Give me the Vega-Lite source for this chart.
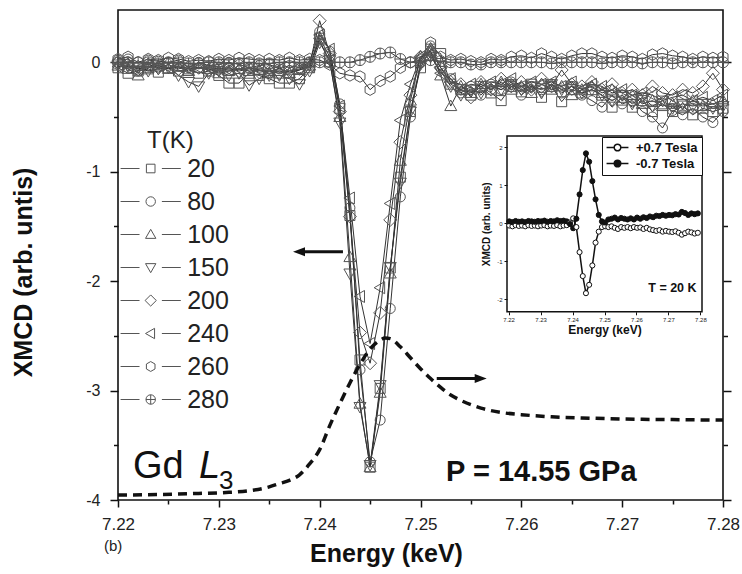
{
  "$schema": "https://vega.github.io/schema/vega-lite/v6.json",
  "width": 605,
  "height": 490,
  "autosize": {"type": "none"},
  "padding": {"left": 118, "top": 10, "right": 19, "bottom": 74},
  "background": "white",
  "config": {
    "font": "Liberation Sans",
    "view": {"stroke": "#111", "strokeWidth": 1.6},
    "axis": {"domain": false, "grid": false, "tickColor": "#111", "tickWidth": 1.5, "labelFont": "Liberation Sans", "labelColor": "#222", "titleColor": "#111", "titleFont": "Liberation Sans"},
    "legend": {"labelFont": "Liberation Sans", "titleFont": "Liberation Sans"}
  },
  "datasets": {
    "xmcd": [
      {"E":7.220,"20":-0.05,"80":0.02,"100":-0.03,"150":-0.02,"200":0.00,"240":-0.04,"260":0.03,"280":0.00},
      {"E":7.221,"20":-0.10,"80":0.03,"100":-0.06,"150":-0.04,"200":-0.02,"240":-0.03,"260":0.05,"280":0.00},
      {"E":7.222,"20":-0.08,"80":-0.08,"100":-0.12,"150":-0.05,"200":-0.04,"240":-0.06,"260":0.00,"280":0.00},
      {"E":7.223,"20":-0.06,"80":0.02,"100":-0.05,"150":-0.08,"200":-0.02,"240":-0.04,"260":0.03,"280":0.00},
      {"E":7.224,"20":-0.09,"80":0.01,"100":-0.03,"150":-0.06,"200":-0.05,"240":-0.03,"260":0.02,"280":-0.01},
      {"E":7.225,"20":-0.05,"80":0.00,"100":-0.06,"150":-0.05,"200":-0.02,"240":-0.05,"260":0.04,"280":0.00},
      {"E":7.226,"20":-0.08,"80":0.02,"100":-0.04,"150":-0.12,"200":-0.06,"240":-0.04,"260":0.03,"280":0.00},
      {"E":7.227,"20":-0.06,"80":-0.05,"100":-0.08,"150":-0.18,"200":-0.04,"240":-0.06,"260":0.01,"280":-0.01},
      {"E":7.228,"20":-0.10,"80":0.00,"100":-0.05,"150":-0.22,"200":-0.05,"240":-0.05,"260":0.02,"280":-0.01},
      {"E":7.229,"20":-0.08,"80":-0.03,"100":-0.06,"150":-0.10,"200":-0.07,"240":-0.05,"260":0.01,"280":0.00},
      {"E":7.230,"20":-0.12,"80":-0.02,"100":-0.10,"150":-0.08,"200":-0.06,"240":-0.06,"260":0.03,"280":0.00},
      {"E":7.231,"20":-0.19,"80":0.00,"100":-0.08,"150":-0.12,"200":-0.05,"240":-0.07,"260":0.02,"280":-0.01},
      {"E":7.232,"20":-0.19,"80":-0.02,"100":-0.06,"150":-0.10,"200":-0.08,"240":-0.06,"260":0.04,"280":-0.01},
      {"E":7.233,"20":-0.10,"80":-0.05,"100":-0.08,"150":-0.21,"200":-0.06,"240":-0.05,"260":0.03,"280":0.00},
      {"E":7.234,"20":-0.12,"80":-0.03,"100":-0.07,"150":-0.15,"200":-0.09,"240":-0.07,"260":0.02,"280":-0.01},
      {"E":7.235,"20":-0.15,"80":-0.02,"100":-0.10,"150":-0.12,"200":-0.08,"240":-0.08,"260":0.03,"280":-0.01},
      {"E":7.236,"20":-0.19,"80":-0.06,"100":-0.08,"150":-0.12,"200":-0.10,"240":-0.06,"260":0.02,"280":0.00},
      {"E":7.237,"20":-0.19,"80":-0.03,"100":-0.10,"150":-0.15,"200":-0.08,"240":-0.09,"260":0.04,"280":0.00},
      {"E":7.238,"20":-0.15,"80":-0.05,"100":-0.07,"150":-0.20,"200":-0.06,"240":-0.07,"260":0.02,"280":0.00},
      {"E":7.239,"20":-0.05,"80":0.00,"100":-0.03,"150":-0.08,"200":-0.02,"240":-0.04,"260":0.03,"280":0.00},
      {"E":7.240,"20":0.22,"80":0.28,"100":0.20,"150":0.18,"200":0.38,"240":0.25,"260":0.02,"280":0.00},
      {"E":7.241,"20":0.05,"80":0.10,"100":0.00,"150":0.02,"200":0.08,"240":0.12,"260":-0.02,"280":0.00},
      {"E":7.242,"20":-0.42,"80":-0.38,"100":-0.50,"150":-0.55,"200":-0.45,"240":-0.40,"260":-0.10,"280":0.00},
      {"E":7.243,"20":-1.40,"80":-1.33,"100":-1.78,"150":-1.93,"200":-1.41,"240":-1.24,"260":-0.12,"280":0.00},
      {"E":7.244,"20":-2.72,"80":-2.81,"100":-3.12,"150":-3.15,"200":-2.47,"240":-2.14,"260":-0.13,"280":0.02},
      {"E":7.245,"20":-3.70,"80":-3.65,"100":-3.70,"150":-3.68,"200":-2.75,"240":-2.57,"260":-0.25,"280":0.05},
      {"E":7.246,"20":-2.98,"80":-3.27,"100":-3.02,"150":-2.95,"200":-2.29,"240":-2.06,"260":-0.17,"280":0.08},
      {"E":7.247,"20":-1.88,"80":-2.25,"100":-1.93,"150":-1.87,"200":-1.44,"240":-1.29,"260":-0.13,"280":0.09},
      {"E":7.248,"20":-1.05,"80":-1.23,"100":-0.90,"150":-1.10,"200":-0.73,"240":-0.53,"260":-0.05,"280":0.03},
      {"E":7.249,"20":-0.45,"80":-0.50,"100":-0.35,"150":-0.45,"200":-0.30,"240":-0.20,"260":0.00,"280":0.00},
      {"E":7.250,"20":-0.05,"80":0.00,"100":0.05,"150":-0.02,"200":0.05,"240":0.05,"260":0.02,"280":0.00},
      {"E":7.251,"20":0.12,"80":0.15,"100":0.10,"150":0.05,"200":0.10,"240":0.08,"260":0.18,"280":0.02},
      {"E":7.252,"20":0.08,"80":-0.05,"100":-0.12,"150":-0.08,"200":-0.05,"240":-0.10,"260":0.05,"280":0.01},
      {"E":7.253,"20":-0.20,"80":-0.15,"100":-0.40,"150":-0.22,"200":-0.18,"240":-0.15,"260":0.02,"280":0.00},
      {"E":7.254,"20":-0.25,"80":-0.28,"100":-0.22,"150":-0.30,"200":-0.20,"240":-0.25,"260":0.03,"280":0.00},
      {"E":7.255,"20":-0.30,"80":-0.22,"100":-0.28,"150":-0.25,"200":-0.32,"240":-0.20,"260":0.01,"280":-0.02},
      {"E":7.256,"20":-0.22,"80":-0.30,"100":-0.20,"150":-0.28,"200":-0.18,"240":-0.22,"260":0.00,"280":-0.02},
      {"E":7.257,"20":-0.28,"80":-0.20,"100":-0.25,"150":-0.22,"200":-0.25,"240":-0.18,"260":0.03,"280":0.00},
      {"E":7.258,"20":-0.35,"80":-0.25,"100":-0.18,"150":-0.25,"200":-0.15,"240":-0.20,"260":0.02,"280":0.00},
      {"E":7.259,"20":-0.22,"80":-0.18,"100":-0.25,"150":-0.20,"200":-0.22,"240":-0.15,"260":0.05,"280":0.00},
      {"E":7.260,"20":-0.27,"80":-0.30,"100":-0.22,"150":-0.25,"200":-0.18,"240":-0.22,"260":0.06,"280":0.00},
      {"E":7.261,"20":-0.20,"80":-0.22,"100":-0.28,"150":-0.22,"200":-0.25,"240":-0.18,"260":0.04,"280":0.00},
      {"E":7.262,"20":-0.32,"80":-0.25,"100":-0.20,"150":-0.28,"200":-0.15,"240":-0.20,"260":0.08,"280":0.00},
      {"E":7.263,"20":-0.22,"80":-0.20,"100":-0.25,"150":-0.20,"200":-0.22,"240":-0.18,"260":0.05,"280":-0.01},
      {"E":7.264,"20":-0.36,"80":-0.28,"100":-0.22,"150":-0.25,"200":-0.07,"240":-0.22,"260":0.03,"280":0.00},
      {"E":7.265,"20":-0.25,"80":-0.22,"100":-0.30,"150":-0.22,"200":-0.20,"240":-0.18,"260":0.06,"280":0.00},
      {"E":7.266,"20":-0.28,"80":-0.30,"100":-0.25,"150":-0.28,"200":-0.22,"240":-0.25,"260":0.08,"280":0.00},
      {"E":7.267,"20":-0.25,"80":-0.35,"100":-0.22,"150":-0.25,"200":-0.18,"240":-0.20,"260":0.08,"280":0.00},
      {"E":7.268,"20":-0.30,"80":-0.41,"100":-0.28,"150":-0.30,"200":-0.25,"240":-0.22,"260":0.05,"280":-0.01},
      {"E":7.269,"20":-0.41,"80":-0.30,"100":-0.25,"150":-0.35,"200":-0.20,"240":-0.28,"260":0.04,"280":0.00},
      {"E":7.270,"20":-0.32,"80":-0.38,"100":-0.35,"150":-0.30,"200":-0.28,"240":-0.25,"260":0.06,"280":0.00},
      {"E":7.271,"20":-0.41,"80":-0.35,"100":-0.30,"150":-0.38,"200":-0.25,"240":-0.30,"260":0.05,"280":0.00},
      {"E":7.272,"20":-0.35,"80":-0.45,"100":-0.38,"150":-0.32,"200":-0.30,"240":-0.28,"260":0.03,"280":-0.01},
      {"E":7.273,"20":-0.45,"80":-0.50,"100":-0.35,"150":-0.40,"200":-0.22,"240":-0.30,"260":0.07,"280":0.00},
      {"E":7.274,"20":-0.38,"80":-0.60,"100":-0.40,"150":-0.35,"200":-0.28,"240":-0.35,"260":0.08,"280":0.00},
      {"E":7.275,"20":-0.45,"80":-0.44,"100":-0.38,"150":-0.42,"200":-0.30,"240":-0.32,"260":0.06,"280":-0.01},
      {"E":7.276,"20":-0.40,"80":-0.48,"100":-0.42,"150":-0.38,"200":-0.25,"240":-0.30,"260":0.05,"280":0.00},
      {"E":7.277,"20":-0.48,"80":-0.42,"100":-0.35,"150":-0.40,"200":-0.28,"240":-0.35,"260":0.03,"280":0.00},
      {"E":7.278,"20":-0.42,"80":-0.50,"100":-0.40,"150":-0.38,"200":-0.22,"240":-0.32,"260":0.05,"280":0.00},
      {"E":7.279,"20":-0.45,"80":-0.55,"100":-0.38,"150":-0.42,"200":-0.10,"240":-0.35,"260":0.04,"280":0.00},
      {"E":7.280,"20":-0.42,"80":-0.45,"100":-0.35,"150":-0.40,"200":-0.25,"240":-0.30,"260":0.05,"280":0.00}
    ],
    "abs": [
      {"E":7.220,"A":-3.955},{"E":7.224,"A":-3.95},{"E":7.228,"A":-3.94},{"E":7.231,"A":-3.93},
      {"E":7.233,"A":-3.915},{"E":7.235,"A":-3.88},{"E":7.236,"A":-3.85},{"E":7.237,"A":-3.82},
      {"E":7.238,"A":-3.77},{"E":7.239,"A":-3.67},{"E":7.240,"A":-3.54},{"E":7.241,"A":-3.32},
      {"E":7.242,"A":-3.12},{"E":7.243,"A":-2.93},{"E":7.244,"A":-2.76},{"E":7.245,"A":-2.62},
      {"E":7.246,"A":-2.54},{"E":7.2465,"A":-2.52},{"E":7.247,"A":-2.525},{"E":7.248,"A":-2.60},
      {"E":7.249,"A":-2.70},{"E":7.250,"A":-2.80},{"E":7.251,"A":-2.89},{"E":7.252,"A":-2.97},
      {"E":7.253,"A":-3.04},{"E":7.254,"A":-3.09},{"E":7.256,"A":-3.16},{"E":7.258,"A":-3.20},
      {"E":7.260,"A":-3.22},{"E":7.263,"A":-3.24},{"E":7.266,"A":-3.25},{"E":7.270,"A":-3.26},
      {"E":7.275,"A":-3.265},{"E":7.280,"A":-3.27}
    ],
    "inset": [
      {"E":7.2202,"p":-0.06,"m":0.05},{"E":7.2212,"p":-0.08,"m":0.03},{"E":7.2222,"p":-0.05,"m":0.06},
      {"E":7.2232,"p":-0.07,"m":0.04},{"E":7.2242,"p":-0.06,"m":0.05},{"E":7.2252,"p":-0.08,"m":0.03},
      {"E":7.2262,"p":-0.05,"m":0.06},{"E":7.2272,"p":-0.07,"m":0.05},{"E":7.2282,"p":-0.06,"m":0.04},
      {"E":7.2292,"p":-0.08,"m":0.06},{"E":7.2302,"p":-0.06,"m":0.05},{"E":7.2312,"p":-0.05,"m":0.07},
      {"E":7.2322,"p":-0.08,"m":0.04},{"E":7.2332,"p":-0.06,"m":0.06},{"E":7.2342,"p":-0.07,"m":0.05},
      {"E":7.2352,"p":-0.05,"m":0.08},{"E":7.2362,"p":-0.08,"m":0.06},{"E":7.2372,"p":-0.06,"m":0.07},
      {"E":7.2382,"p":-0.05,"m":0.05},{"E":7.2392,"p":0.02,"m":-0.02},{"E":7.2402,"p":0.13,"m":-0.13},
      {"E":7.2412,"p":-0.10,"m":0.12},{"E":7.2422,"p":-0.76,"m":0.76},{"E":7.2432,"p":-1.39,"m":1.40},
      {"E":7.2442,"p":-1.84,"m":1.84},{"E":7.2452,"p":-1.62,"m":1.62},{"E":7.2462,"p":-1.11,"m":1.11},
      {"E":7.2472,"p":-0.51,"m":0.63},{"E":7.2482,"p":-0.22,"m":0.22},{"E":7.2492,"p":-0.10,"m":0.05},
      {"E":7.2502,"p":-0.08,"m":0.02},{"E":7.2512,"p":-0.10,"m":0.10},{"E":7.2522,"p":-0.08,"m":0.12},
      {"E":7.2532,"p":-0.12,"m":0.15},{"E":7.2542,"p":-0.15,"m":0.10},{"E":7.2552,"p":-0.10,"m":0.14},
      {"E":7.2562,"p":-0.12,"m":0.12},{"E":7.2572,"p":-0.10,"m":0.10},{"E":7.2582,"p":-0.13,"m":0.13},
      {"E":7.2592,"p":-0.10,"m":0.10},{"E":7.2602,"p":-0.12,"m":0.15},{"E":7.2612,"p":-0.11,"m":0.12},
      {"E":7.2622,"p":-0.15,"m":0.16},{"E":7.2632,"p":-0.12,"m":0.14},{"E":7.2642,"p":-0.16,"m":0.18},
      {"E":7.2652,"p":-0.18,"m":0.16},{"E":7.2662,"p":-0.20,"m":0.20},{"E":7.2672,"p":-0.18,"m":0.19},
      {"E":7.2682,"p":-0.22,"m":0.22},{"E":7.2692,"p":-0.20,"m":0.20},{"E":7.2702,"p":-0.22,"m":0.22},
      {"E":7.2712,"p":-0.23,"m":0.21},{"E":7.2722,"p":-0.21,"m":0.24},{"E":7.2732,"p":-0.25,"m":0.23},
      {"E":7.2742,"p":-0.30,"m":0.30},{"E":7.2752,"p":-0.26,"m":0.27},{"E":7.2762,"p":-0.22,"m":0.22},
      {"E":7.2772,"p":-0.24,"m":0.26},{"E":7.2782,"p":-0.27,"m":0.24},{"E":7.2792,"p":-0.25,"m":0.26}
    ]
  },
  "layer": [
    {
      "data": {"name": "xmcd"},
      "transform": [{"fold": ["20","80","100","150","200","240","260","280"], "as": ["T","v"]}],
      "resolve": {"scale": {"shape": "independent"}, "axis": {"x": "independent", "y": "independent"}},
      "layer": [
        {
          "mark": {"type": "line", "stroke": "#333", "strokeWidth": 1},
          "encoding": {
            "x": {"field": "E", "type": "quantitative", "scale": {"domain": [7.22, 7.28], "nice": false, "zero": false},
              "axis": {"orient": "bottom", "values": [7.22,7.23,7.24,7.25,7.26,7.27,7.28], "format": ".2f", "tickSize": 7, "labelFontSize": 17, "labelPadding": 9, "labelFlush": false, "labelOverlap": false,
                "title": "Energy (keV)", "titleFontSize": 25, "titleFontWeight": "bold", "titleX": 268, "titleY": 53, "titleAlign": "center", "titleBaseline": "middle"}},
            "y": {"field": "v", "type": "quantitative", "scale": {"domain": [-4, 0.478], "nice": false, "zero": false},
              "axis": {"orient": "left", "values": [-4,-3,-2,-1,0], "labelExpr": "datum.value < 0 ? '-' + abs(datum.value) : '0'", "tickSize": 8, "labelFontSize": 16, "labelPadding": 10,
                "title": "XMCD (arb. untis)", "titleFontSize": 25, "titleFontWeight": "bold", "titleX": -95, "titleY": 262, "titleAngle": -90, "titleAlign": "center", "titleBaseline": "middle"}},
            "detail": {"field": "T", "type": "nominal"}
          }
        },
        {
          "mark": {"type": "point", "filled": false, "stroke": "#555", "strokeWidth": 1, "size": 100, "opacity": 1},
          "encoding": {
            "x": {"field": "E", "type": "quantitative", "axis": {"orient": "bottom", "values": [7.225,7.235,7.245,7.255,7.265,7.275], "labels": false, "tickSize": 4, "title": null}},
            "y": {"field": "v", "type": "quantitative", "axis": {"orient": "left", "values": [-3.5,-2.5,-1.5,-0.5], "labels": false, "tickSize": 4.5, "title": null}},
            "shape": {"field": "T", "type": "nominal", "legend": null,
              "scale": {"domain": ["20","80","100","150","200","240","260","280"],
                "range": ["M-1,-1H1V1H-1Z", "circle", "M0,-1.2L1.2,0.9L-1.2,0.9Z", "M0,1.2L1.2,-0.9L-1.2,-0.9Z", "M0,-1.3L1.3,0L0,1.3L-1.3,0Z", "M-1.2,0L0.9,-1.2L0.9,1.2Z", "M0,-1.15L1,-0.58L1,0.58L0,1.15L-1,0.58L-1,-0.58Z", "M-1.1,0A1.1,1.1 0 1,0 1.1,0A1.1,1.1 0 1,0 -1.1,0M-1.1,0H1.1M0,-1.1V1.1"]}}
          }
        },
        {
          "mark": {"type": "point", "filled": false, "stroke": "#555", "strokeWidth": 1, "size": 74, "opacity": 0},
          "encoding": {
            "x": {"field": "E", "type": "quantitative", "axis": null},
            "y": {"field": "v", "type": "quantitative", "axis": {"orient": "right", "values": [-4,-3,-2,-1,0], "labels": false, "tickSize": 8, "title": null}},
            "shape": {"field": "T", "type": "nominal",
              "scale": {"domain": ["20","80","100","150","200","240","260","280"],
                "range": ["M-7,0H-2.6M2.6,0H7M-1,-1H1V1H-1Z", "M-7,0H-2.6M2.6,0H7M-1.1,0A1.1,1.1 0 1,0 1.1,0A1.1,1.1 0 1,0 -1.1,0", "M-7,0H-2.6M2.6,0H7M0,-1.2L1.2,0.9L-1.2,0.9Z", "M-7,0H-2.6M2.6,0H7M0,1.2L1.2,-0.9L-1.2,-0.9Z", "M-7,0H-2.6M2.6,0H7M0,-1.3L1.3,0L0,1.3L-1.3,0Z", "M-7,0H-2.6M2.6,0H7M-1.2,0L0.9,-1.2L0.9,1.2Z", "M-7,0H-2.6M2.6,0H7M0,-1.15L1,-0.58L1,0.58L0,1.15L-1,0.58L-1,-0.58Z", "M-7,0H-2.6M2.6,0H7M-1.1,0A1.1,1.1 0 1,0 1.1,0A1.1,1.1 0 1,0 -1.1,0M-1.1,0H1.1M0,-1.1V1.1"]},
              "legend": {"orient": "none", "legendX": 29, "legendY": 119, "title": "T(K)", "titleFontSize": 24, "titleFontWeight": "normal", "titleColor": "#222", "titlePadding": 3,
                "labelFontSize": 25, "labelColor": "#222", "labelOffset": 24, "symbolOffset": -8.8, "symbolSize": 74, "symbolStrokeColor": "#555", "symbolStrokeWidth": 1, "symbolFillColor": "transparent", "symbolOpacity": 1, "rowPadding": 7}}
          }
        },
        {
          "data": {"name": "abs"},
          "mark": {"type": "line", "stroke": "#111", "strokeWidth": 3.5, "strokeDash": [9, 6], "interpolate": "monotone"},
          "encoding": {
            "x": {"field": "E", "type": "quantitative", "axis": null},
            "y": {"field": "A", "type": "quantitative", "axis": {"orient": "right", "values": [-3.5,-2.5,-1.5,-0.5], "labels": false, "tickSize": 4.5, "title": null}}
          }
        },
        {
          "data": {"values": [{}]},
          "mark": {"type": "rule", "stroke": "#111", "strokeWidth": 3},
          "encoding": {"x": {"datum": 7.24231, "type": "quantitative", "axis": null}, "x2": {"datum": 7.23805}, "y": {"datum": -1.731, "type": "quantitative", "axis": null}}
        },
        {
          "data": {"values": [{}]},
          "mark": {"type": "point", "shape": "M-1,0L1,-0.75L1,0.75Z", "filled": true, "fill": "#111", "strokeWidth": 0, "size": 144, "opacity": 1},
          "encoding": {"x": {"datum": 7.23795, "type": "quantitative", "axis": null}, "y": {"datum": -1.731, "type": "quantitative", "axis": null}}
        },
        {
          "data": {"values": [{}]},
          "mark": {"type": "rule", "stroke": "#111", "strokeWidth": 3},
          "encoding": {"x": {"datum": 7.25161, "type": "quantitative", "axis": null}, "x2": {"datum": 7.25600}, "y": {"datum": -2.889, "type": "quantitative", "axis": null}}
        },
        {
          "data": {"values": [{}]},
          "mark": {"type": "point", "shape": "M1,0L-1,-0.75L-1,0.75Z", "filled": true, "fill": "#111", "strokeWidth": 0, "size": 144, "opacity": 1},
          "encoding": {"x": {"datum": 7.25597, "type": "quantitative", "axis": null}, "y": {"datum": -2.889, "type": "quantitative", "axis": null}}
        },
        {
          "data": {"values": [{}]},
          "mark": {"type": "text", "text": "Gd", "align": "left", "baseline": "alphabetic", "fontSize": 38, "fill": "#111"},
          "encoding": {"x": {"datum": 7.22149, "type": "quantitative", "axis": null}, "y": {"datum": -3.80, "type": "quantitative", "axis": null}}
        },
        {
          "data": {"values": [{}]},
          "mark": {"type": "text", "text": "L", "align": "left", "baseline": "alphabetic", "fontSize": 38, "fontStyle": "italic", "fill": "#111"},
          "encoding": {"x": {"datum": 7.22803, "type": "quantitative", "axis": null}, "y": {"datum": -3.80, "type": "quantitative", "axis": null}}
        },
        {
          "data": {"values": [{}]},
          "mark": {"type": "text", "text": "3", "align": "left", "baseline": "alphabetic", "fontSize": 26, "fill": "#111"},
          "encoding": {"x": {"datum": 7.23002, "type": "quantitative", "axis": null}, "y": {"datum": -3.90, "type": "quantitative", "axis": null}}
        },
        {
          "data": {"values": [{}]},
          "mark": {"type": "text", "text": "P = 14.55 GPa", "align": "left", "baseline": "alphabetic", "fontSize": 29, "fontWeight": "bold", "fill": "#111"},
          "encoding": {"x": {"datum": 7.25253, "type": "quantitative", "axis": null}, "y": {"datum": -3.827, "type": "quantitative", "axis": null}}
        },
        {
          "data": {"values": [{}]},
          "mark": {"type": "text", "text": "(b)", "align": "left", "baseline": "alphabetic", "fontSize": 15, "fill": "#222"},
          "encoding": {"x": {"datum": 7.21861, "type": "quantitative", "axis": null}, "y": {"datum": -4.465, "type": "quantitative", "axis": null}}
        }
      ]
    },
    {
      "data": {"name": "inset"},
      "transform": [{"fold": ["p","m"], "as": ["s","w"]}],
      "resolve": {"axis": {"x": "independent", "y": "independent"}},
      "layer": [
        {
          "data": {"values": [{}]},
          "mark": {"type": "rect", "fill": "white", "stroke": "#111", "strokeWidth": 1.5},
          "encoding": {
            "x": {"datum": 7.2195, "type": "quantitative", "scale": {"domain": [7.2195, 7.2805], "range": [389, 584], "nice": false, "zero": false},
              "axis": {"orient": "bottom", "offset": -188.2, "zindex": 1, "values": [7.22,7.23,7.24,7.25,7.26,7.27,7.28], "format": ".2f", "tickSize": 3, "tickWidth": 1, "labelFontSize": 6, "labelPadding": 2, "labelFlush": false, "labelOverlap": false,
                "title": "Energy (keV)", "titleFontSize": 12, "titleFontWeight": "bold", "titlePadding": 2}},
            "x2": {"datum": 7.2805},
            "y": {"datum": -2.33, "type": "quantitative", "scale": {"domain": [-2.33, 2.3], "range": [301.8, 125.9], "nice": false, "zero": false},
              "axis": {"orient": "left", "offset": -389, "zindex": 1, "values": [-2,-1,0,1,2], "labelExpr": "datum.value < 0 ? '-' + abs(datum.value) : '' + datum.value", "tickSize": 3, "tickWidth": 1, "labelFontSize": 6, "labelPadding": 2,
                "title": "XMCD (arb. units)", "titleFontSize": 10, "titleFontWeight": "bold", "titlePadding": 5}},
            "y2": {"datum": 2.3}
          }
        },
        {
          "mark": {"type": "line", "stroke": "#111", "strokeWidth": 1.5},
          "encoding": {
            "x": {"field": "E", "type": "quantitative", "axis": null},
            "y": {"field": "w", "type": "quantitative", "axis": null},
            "detail": {"field": "s", "type": "nominal"}
          }
        },
        {
          "mark": {"type": "point", "filled": true, "stroke": "#111", "strokeWidth": 1, "size": 26, "opacity": 1},
          "encoding": {
            "x": {"field": "E", "type": "quantitative", "axis": null},
            "y": {"field": "w", "type": "quantitative", "axis": null},
            "fill": {"field": "s", "type": "nominal", "scale": {"domain": ["p","m"], "range": ["white","#111"]},
              "legend": {"orient": "none", "legendX": 484, "legendY": 127, "title": null, "labelExpr": "datum.value == 'p' ? '+0.7 Tesla' : '-0.7 Tesla'",
                "labelFontSize": 13, "labelFontWeight": "bold", "labelColor": "#111", "symbolType": "M-3.3,0H-1M1,0H3.3M-1,0A1,1 0 1,0 1,0A1,1 0 1,0 -1,0",
                "symbolSize": 44, "symbolStrokeColor": "#111", "symbolStrokeWidth": 1.5, "symbolOffset": 5, "labelOffset": 12, "rowPadding": 2, "padding": 4, "strokeColor": "#111", "fillColor": "white"}}
          }
        },
        {
          "data": {"values": [{}]},
          "mark": {"type": "text", "text": "T = 20 K", "align": "right", "baseline": "alphabetic", "fontSize": 12.5, "fontWeight": "bold", "fill": "#111"},
          "encoding": {"x": {"datum": 7.2788, "type": "quantitative", "axis": null}, "y": {"datum": -1.8, "type": "quantitative", "axis": null}}
        }
      ]
    }
  ],
  "resolve": {"scale": {"x": "independent", "y": "independent"}}
}
